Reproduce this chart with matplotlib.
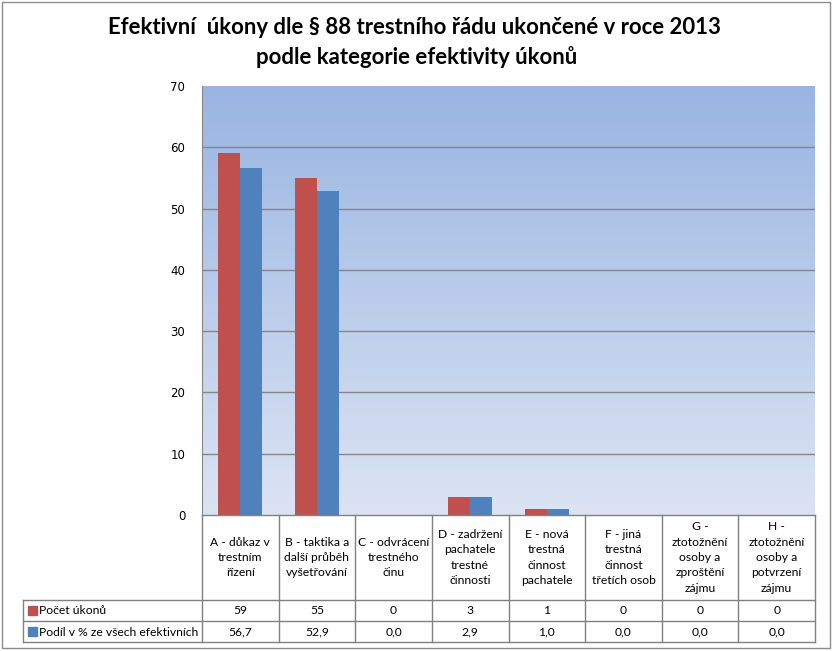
import numpy as np
import matplotlib
matplotlib.use("Agg")
import matplotlib.pyplot as plt
from matplotlib.colors import LinearSegmentedColormap
from matplotlib.patches import Rectangle

# ---- data ----
title_lines = ["Efektivní  úkony dle § 88 trestního řádu ukončené v roce 2013",
               "podle kategorie efektivity úkonů"]
categories = ["A - důkaz v\ntrestním\nřízení",
              "B - taktika a\ndalší průběh\nvyšetřování",
              "C - odvrácení\ntrestného\nčinu",
              "D - zadržení\npachatele\ntrestné\nčinnosti",
              "E - nová\ntrestná\nčinnost\npachatele",
              "F - jiná\ntrestná\nčinnost\ntřetích osob",
              "G -\nztotožnění\nosoby a\nzproštění\nzájmu",
              "H -\nztotožnění\nosoby a\npotvrzení\nzájmu"]
series_names = ["Počet úkonů", "Podíl v % ze všech efektivních"]
pocet = [59, 55, 0, 3, 1, 0, 0, 0]
podil = [56.7, 52.9, 0.0, 2.9, 1.0, 0.0, 0.0, 0.0]
yticks = [0, 10, 20, 30, 40, 50, 60, 70]

RED = "#C0504D"
BLUE = "#4F81BD"
GRID = "#868686"
W, H = 832, 651

fig = plt.figure(figsize=(W / 100, H / 100), dpi=100)
fig.patch.set_facecolor("white")

# plot area in pixel coordinates
L, R, T, B = 202, 815, 86, 515
ax = fig.add_axes([L / W, 1 - B / H, (R - L) / W, (B - T) / H])
n = len(categories)
ax.set_xlim(-0.5, n - 0.5)
ax.set_ylim(0, 70)

# gradient background
cmap = LinearSegmentedColormap.from_list("g", ["#DCE4F3", "#99B5E2"])
grad = np.linspace(0, 1, 256).reshape(-1, 1)
ax.imshow(grad, cmap=cmap, origin="lower", aspect="auto",
          extent=(-0.5, n - 0.5, 0, 70), zorder=0)

for y in yticks[1:-1]:
    ax.axhline(y, color=GRID, lw=1, zorder=1)

x = np.arange(n)
bw = 0.287
ax.bar(x - bw / 2, pocet, width=bw, color=RED, zorder=2)
ax.bar(x + bw / 2, podil, width=bw, color=BLUE, zorder=2)

for s in ["top", "right", "bottom"]:
    ax.spines[s].set_visible(False)
ax.spines["left"].set_color(GRID)
ax.set_xticks([])
ax.set_yticks(yticks)
ax.tick_params(axis="y", length=0, pad=12, labelsize=8.5, labelcolor="black")

# overlay for title, table and border (pixel coordinates)
ov = fig.add_axes([0, 0, 1, 1], zorder=5)
ov.set_xlim(0, W)
ov.set_ylim(H, 0)
ov.axis("off")
ov.patch.set_alpha(0)

ov.add_patch(Rectangle((1.5, 1.5), W - 4, H - 5, fill=False, ec="#8C8C8C", lw=1))

tfont = dict(family=["Lato", "DejaVu Sans"], weight="bold", fontsize=15.9, ha="center", va="center")
ov.text(414, 27, title_lines[0], **tfont)
ov.text(417, 57, title_lines[1], **tfont)

# table
colw = (R - L) / n
xs = [L + i * colw for i in range(n + 1)]
row1, row2, row3 = 600, 621, 642
TL = 23
lc = "#808080"
ov.plot([L, R], [B, B], color=lc, lw=1)
for yy in (row1, row2, row3):
    ov.plot([TL, R], [yy, yy], color=lc, lw=1)
ov.plot([TL, TL], [row1, row3], color=lc, lw=1)
for xx in xs:
    ov.plot([xx, xx], [B, row3], color=lc, lw=1)

tf = dict(family=["Lato", "DejaVu Sans"], fontsize=8.7, color="black")
for i, c in enumerate(categories):
    cx = (xs[i] + xs[i + 1]) / 2
    ov.text(cx, (B + row1) / 2, c, ha="center", va="center", linespacing=1.5, **tf)
    ov.text(cx, (row1 + row2) / 2 + 0.5, str(pocet[i]), ha="center", va="center", **tf)
    ov.text(cx, (row2 + row3) / 2 + 0.5, f"{podil[i]:.1f}".replace(".", ","),
            ha="center", va="center", **tf)

for (ya, yb), name, col in [((row1, row2), series_names[0], RED),
                            ((row2, row3), series_names[1], BLUE)]:
    ym = (ya + yb) / 2
    ov.add_patch(Rectangle((28, ym - 4.5), 9, 9, color=col))
    ov.text(39, ym + 0.5, name, ha="left", va="center", **tf)

fig.savefig("out.png", dpi=100)
